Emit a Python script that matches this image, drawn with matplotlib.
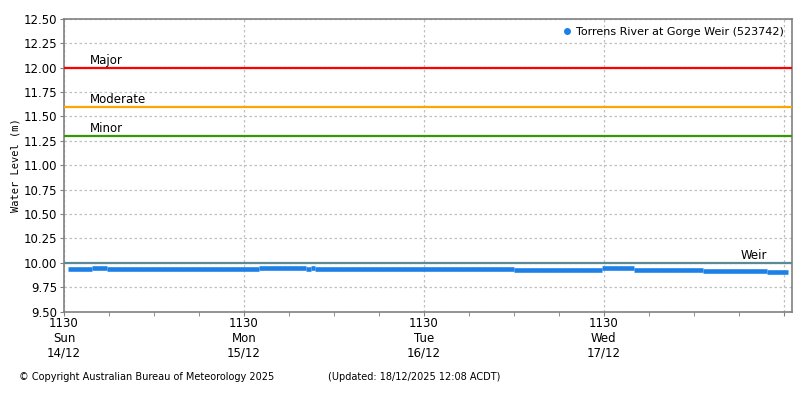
import matplotlib
matplotlib.use('Agg')
import matplotlib.pyplot as plt
import pandas as pd

# water level readings, grouped into runs of equal value
seg_start = ['2025-12-14 12:00', '2025-12-14 15:15', '2025-12-14 17:15',
             '2025-12-15 13:30', '2025-12-15 19:45', '2025-12-15 20:30',
             '2025-12-15 21:00', '2025-12-16 23:30', '2025-12-17 11:15',
             '2025-12-17 15:30', '2025-12-18 00:45', '2025-12-18 09:15']
seg_end = seg_start[1:] + ['2025-12-18 12:00']
levels = [9.94, 9.95, 9.94, 9.95, 9.94, 9.95, 9.94, 9.93, 9.95, 9.93, 9.92, 9.91]

thresholds = {'Major': (12.00, '#ff0000'), 'Moderate': (11.60, '#ffa500'),
              'Minor': (11.30, '#339900')}
weir_level = 10.00

tick_times = ['2025-12-14 11:30', '2025-12-15 11:30', '2025-12-16 11:30',
              '2025-12-17 11:30', '2025-12-18 11:30']
tick_labels = ['1130\nSun\n14/12', '1130\nMon\n15/12', '1130\nTue\n16/12',
               '1130\nWed\n17/12', '']

t0 = pd.Timestamp('2025-12-14 11:30')
t1 = pd.Timestamp('2025-12-18 12:35')

fig = plt.figure(figsize=(8, 4), dpi=100)
ax = fig.add_axes([0.08, 0.221, 0.91, 0.732])

series_col = '#1c80e8'
ax.hlines(levels, pd.to_datetime(seg_start), pd.to_datetime(seg_end),
          color=series_col, lw=3.3, zorder=4)
ax.plot([], [], 'o', ms=4, color=series_col, label='Torrens River at Gorge Weir (523742)')

for name, (lvl, col) in thresholds.items():
    ax.axhline(lvl, color=col, lw=1.6, zorder=3)
    ax.text(pd.Timestamp('2025-12-14 15:00'), lvl + 0.005, name, fontsize=8.5,
            va='bottom', ha='left', color='black')
ax.axhline(weir_level, color='#5b8a94', lw=1.6, zorder=3)
ax.text(pd.Timestamp('2025-12-18 05:45'), weir_level + 0.005, 'Weir', fontsize=8.5,
        va='bottom', ha='left')

ax.set_xlim(t0, t1)
ax.set_ylim(9.5, 12.5)
ax.set_yticks([9.5 + 0.25 * i for i in range(13)])
ax.yaxis.set_major_formatter(matplotlib.ticker.FormatStrFormatter('%.2f'))
ax.set_xticks(pd.to_datetime(tick_times))
ax.set_xticklabels(tick_labels)
ax.set_xticks(pd.date_range(t0, t1, freq='6h'), minor=True)

ax.grid(True, which='major', color='#c0c0c0', ls=(0, (2, 2)), lw=0.9)
for s in ax.spines.values():
    s.set_color('#808080')
    s.set_linewidth(1.2)
ax.tick_params(which='both', direction='out', length=3, color='#808080',
               labelsize=8.5, pad=2)
ax.tick_params(axis='x', pad=1)
for lab in ax.get_xticklabels():
    lab.set_linespacing(1.15)

ax.set_ylabel('Water Level (m)', fontsize=7.5, family='DejaVu Sans Mono', labelpad=0)
ax.yaxis.set_label_coords(-0.06, 0.5)

ax.legend(loc='upper right', frameon=False, fontsize=8, handletextpad=0.3,
          borderaxespad=0.3, handlelength=1)

fig.text(0.024, 0.05, '\u00a9 Copyright Australian Bureau of Meteorology 2025', fontsize=7)
fig.text(0.41, 0.05, '(Updated: 18/12/2025 12:08 ACDT)', fontsize=7)

fig.savefig('out.png', dpi=100)
